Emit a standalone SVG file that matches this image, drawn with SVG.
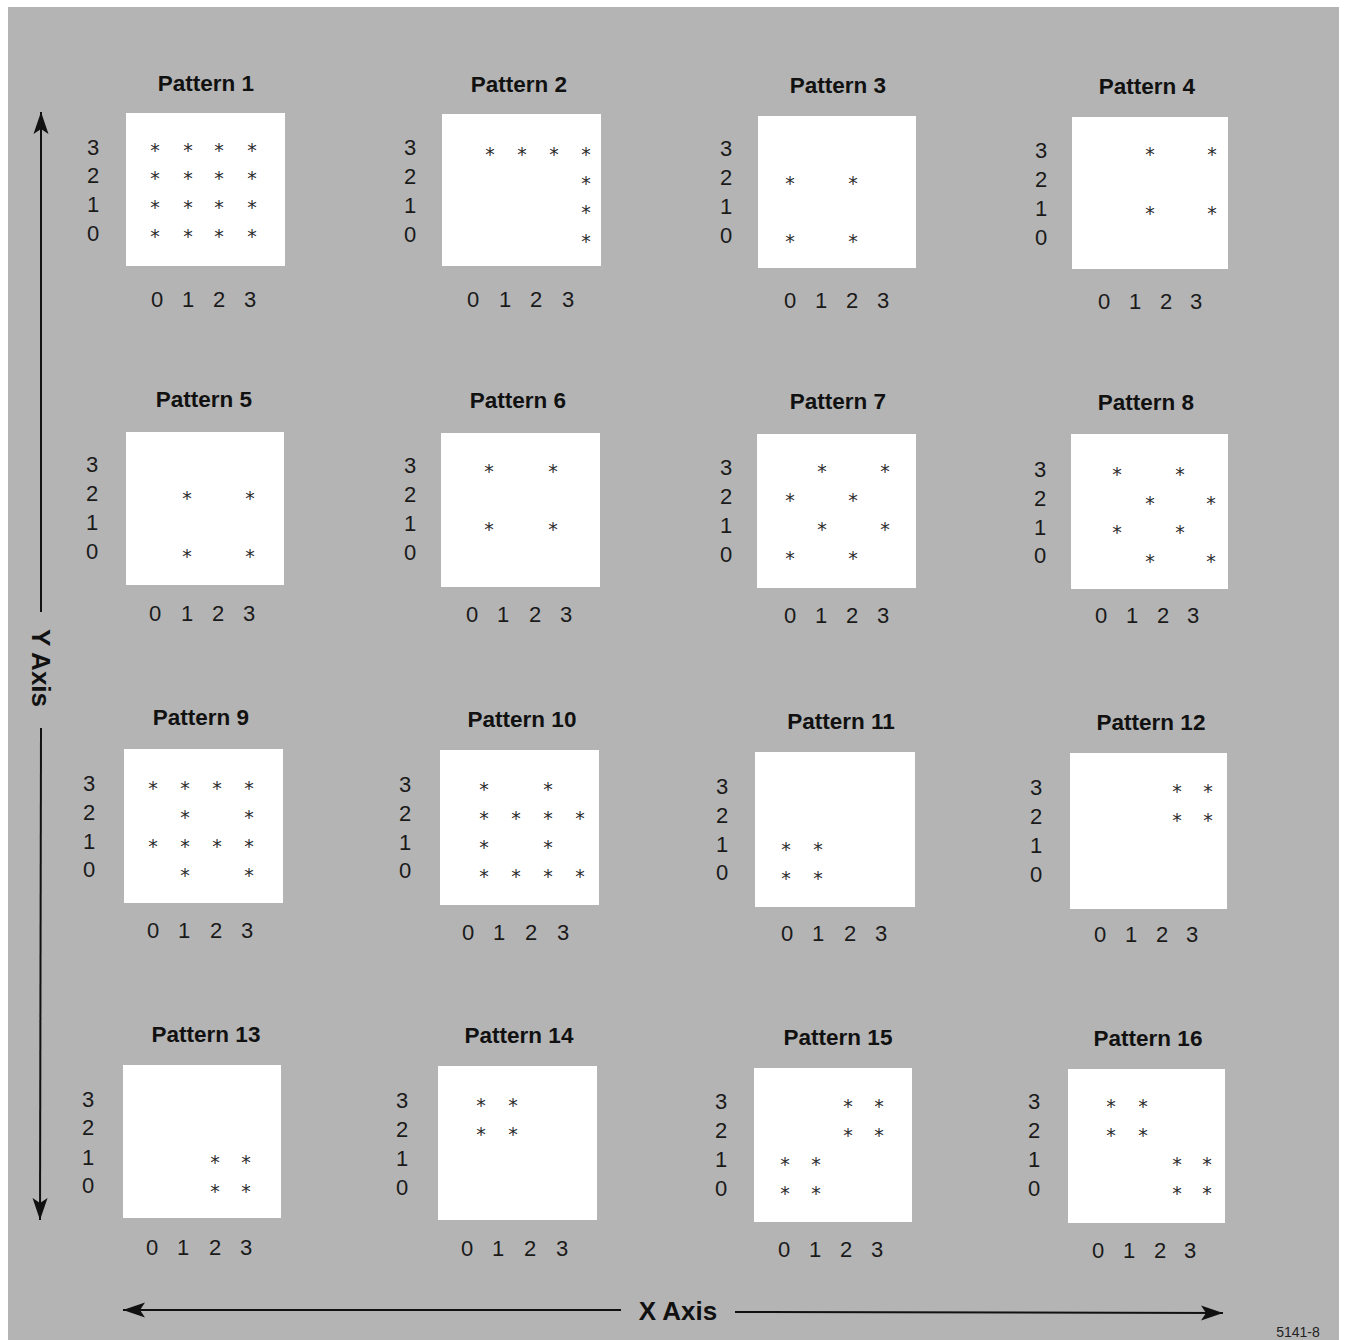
<svg xmlns="http://www.w3.org/2000/svg" width="1348" height="1340" viewBox="0 0 1348 1340">
<style>
.bg{fill:#b4b4b4}
.box{fill:#ffffff}
.t{font-family:"Liberation Sans",Arial,sans-serif;font-weight:bold;font-size:22.5px;fill:#111;text-anchor:middle}
.d{font-family:"Liberation Sans",Arial,sans-serif;font-size:22px;fill:#1a1a1a;text-anchor:middle}
.a{font-family:"DejaVu Sans",sans-serif;font-size:19px;fill:#222;text-anchor:middle;opacity:0.95}
.ax{font-family:"Liberation Sans",Arial,sans-serif;font-weight:bold;font-size:26px;fill:#111;text-anchor:middle}
.ln{stroke:#111;stroke-width:2;fill:none;marker-end:url(#arr)}
.id{font-family:"Liberation Sans",Arial,sans-serif;font-size:14px;fill:#222;text-anchor:middle}
</style>
<defs>
<marker id="arr" markerUnits="userSpaceOnUse" markerWidth="24" markerHeight="16" refX="22" refY="8" orient="auto">
<path d="M0,0.5 L22,8 L0,15.5 L5,8 Z" fill="#111"/>
</marker>
</defs>
<rect width="1348" height="1340" fill="#ffffff"/>
<rect class="bg" x="8" y="7" width="1331" height="1333"/>

<g id="pattern-1">
<text class="t" x="206" y="91">Pattern 1</text>
<rect class="box" x="126" y="113" width="159" height="153"/>
<text class="d" x="93" y="155">3</text><text class="d" x="93" y="183">2</text><text class="d" x="93" y="212">1</text><text class="d" x="93" y="241">0</text>
<text class="d" x="157" y="307">0</text><text class="d" x="188" y="307">1</text><text class="d" x="219" y="307">2</text><text class="d" x="250" y="307">3</text>
<g transform="translate(0,2)">
<text class="a" x="155" y="155">*</text><text class="a" x="188" y="155">*</text><text class="a" x="219" y="155">*</text><text class="a" x="252" y="155">*</text>
<text class="a" x="155" y="183">*</text><text class="a" x="188" y="183">*</text><text class="a" x="219" y="183">*</text><text class="a" x="252" y="183">*</text>
<text class="a" x="155" y="212">*</text><text class="a" x="188" y="212">*</text><text class="a" x="219" y="212">*</text><text class="a" x="252" y="212">*</text>
<text class="a" x="155" y="241">*</text><text class="a" x="188" y="241">*</text><text class="a" x="219" y="241">*</text><text class="a" x="252" y="241">*</text>
</g>
</g>

<g id="pattern-2">
<text class="t" x="519" y="92">Pattern 2</text>
<rect class="box" x="442" y="114" width="159" height="152"/>
<text class="d" x="410" y="155">3</text><text class="d" x="410" y="184">2</text><text class="d" x="410" y="213">1</text><text class="d" x="410" y="242">0</text>
<text class="d" x="473" y="307">0</text><text class="d" x="505" y="307">1</text><text class="d" x="536" y="307">2</text><text class="d" x="568" y="307">3</text>
<g transform="translate(0,2)">
<text class="a" x="490" y="159">*</text><text class="a" x="522" y="159">*</text><text class="a" x="554" y="159">*</text><text class="a" x="586" y="159">*</text>
<text class="a" x="586" y="188">*</text><text class="a" x="586" y="217">*</text><text class="a" x="586" y="246">*</text>
</g>
</g>

<g id="pattern-3">
<text class="t" x="838" y="93">Pattern 3</text>
<rect class="box" x="758" y="116" width="158" height="152"/>
<text class="d" x="726" y="156">3</text><text class="d" x="726" y="185">2</text><text class="d" x="726" y="214">1</text><text class="d" x="726" y="243">0</text>
<text class="d" x="790" y="308">0</text><text class="d" x="821" y="308">1</text><text class="d" x="852" y="308">2</text><text class="d" x="883" y="308">3</text>
<g transform="translate(0,2)">
<text class="a" x="790" y="188">*</text><text class="a" x="853" y="188">*</text>
<text class="a" x="790" y="246">*</text><text class="a" x="853" y="246">*</text>
</g>
</g>

<g id="pattern-4">
<text class="t" x="1147" y="94">Pattern 4</text>
<rect class="box" x="1072" y="117" width="156" height="152"/>
<text class="d" x="1041" y="158">3</text><text class="d" x="1041" y="187">2</text><text class="d" x="1041" y="216">1</text><text class="d" x="1041" y="245">0</text>
<text class="d" x="1104" y="309">0</text><text class="d" x="1135" y="309">1</text><text class="d" x="1166" y="309">2</text><text class="d" x="1196" y="309">3</text>
<g transform="translate(0,2)">
<text class="a" x="1150" y="159">*</text><text class="a" x="1212" y="159">*</text>
<text class="a" x="1150" y="218">*</text><text class="a" x="1212" y="218">*</text>
</g>
</g>

<g id="pattern-5">
<text class="t" x="204" y="407">Pattern 5</text>
<rect class="box" x="126" y="432" width="158" height="153"/>
<text class="d" x="92" y="472">3</text><text class="d" x="92" y="501">2</text><text class="d" x="92" y="530">1</text><text class="d" x="92" y="559">0</text>
<text class="d" x="155" y="621">0</text><text class="d" x="187" y="621">1</text><text class="d" x="218" y="621">2</text><text class="d" x="249" y="621">3</text>
<g transform="translate(0,2)">
<text class="a" x="187" y="503">*</text><text class="a" x="250" y="503">*</text>
<text class="a" x="187" y="561">*</text><text class="a" x="250" y="561">*</text>
</g>
</g>

<g id="pattern-6">
<text class="t" x="518" y="408">Pattern 6</text>
<rect class="box" x="441" y="433" width="159" height="154"/>
<text class="d" x="410" y="473">3</text><text class="d" x="410" y="502">2</text><text class="d" x="410" y="531">1</text><text class="d" x="410" y="560">0</text>
<text class="d" x="472" y="622">0</text><text class="d" x="503" y="622">1</text><text class="d" x="535" y="622">2</text><text class="d" x="566" y="622">3</text>
<g transform="translate(0,2)">
<text class="a" x="489" y="476">*</text><text class="a" x="553" y="476">*</text>
<text class="a" x="489" y="534">*</text><text class="a" x="553" y="534">*</text>
</g>
</g>

<g id="pattern-7">
<text class="t" x="838" y="409">Pattern 7</text>
<rect class="box" x="757" y="434" width="159" height="154"/>
<text class="d" x="726" y="475">3</text><text class="d" x="726" y="504">2</text><text class="d" x="726" y="533">1</text><text class="d" x="726" y="562">0</text>
<text class="d" x="790" y="623">0</text><text class="d" x="821" y="623">1</text><text class="d" x="852" y="623">2</text><text class="d" x="883" y="623">3</text>
<g transform="translate(0,2)">
<text class="a" x="822" y="476">*</text><text class="a" x="885" y="476">*</text>
<text class="a" x="790" y="505">*</text><text class="a" x="853" y="505">*</text>
<text class="a" x="822" y="534">*</text><text class="a" x="885" y="534">*</text>
<text class="a" x="790" y="563">*</text><text class="a" x="853" y="563">*</text>
</g>
</g>

<g id="pattern-8">
<text class="t" x="1146" y="410">Pattern 8</text>
<rect class="box" x="1071" y="434" width="157" height="155"/>
<text class="d" x="1040" y="477">3</text><text class="d" x="1040" y="506">2</text><text class="d" x="1040" y="535">1</text><text class="d" x="1040" y="563">0</text>
<text class="d" x="1101" y="623">0</text><text class="d" x="1132" y="623">1</text><text class="d" x="1163" y="623">2</text><text class="d" x="1193" y="623">3</text>
<g transform="translate(0,2)">
<text class="a" x="1117" y="479">*</text><text class="a" x="1180" y="479">*</text>
<text class="a" x="1150" y="508">*</text><text class="a" x="1211" y="508">*</text>
<text class="a" x="1117" y="537">*</text><text class="a" x="1180" y="537">*</text>
<text class="a" x="1150" y="566">*</text><text class="a" x="1211" y="566">*</text>
</g>
</g>

<g id="pattern-9">
<text class="t" x="201" y="725">Pattern 9</text>
<rect class="box" x="124" y="749" width="159" height="154"/>
<text class="d" x="89" y="791">3</text><text class="d" x="89" y="820">2</text><text class="d" x="89" y="849">1</text><text class="d" x="89" y="877">0</text>
<text class="d" x="153" y="938">0</text><text class="d" x="184" y="938">1</text><text class="d" x="216" y="938">2</text><text class="d" x="247" y="938">3</text>
<g transform="translate(0,2)">
<text class="a" x="153" y="793">*</text><text class="a" x="185" y="793">*</text><text class="a" x="217" y="793">*</text><text class="a" x="249" y="793">*</text>
<text class="a" x="185" y="822">*</text><text class="a" x="249" y="822">*</text>
<text class="a" x="153" y="851">*</text><text class="a" x="185" y="851">*</text><text class="a" x="217" y="851">*</text><text class="a" x="249" y="851">*</text>
<text class="a" x="185" y="880">*</text><text class="a" x="249" y="880">*</text>
</g>
</g>

<g id="pattern-10">
<text class="t" x="522" y="727">Pattern 10</text>
<rect class="box" x="440" y="750" width="159" height="155"/>
<text class="d" x="405" y="792">3</text><text class="d" x="405" y="821">2</text><text class="d" x="405" y="850">1</text><text class="d" x="405" y="878">0</text>
<text class="d" x="468" y="940">0</text><text class="d" x="499" y="940">1</text><text class="d" x="531" y="940">2</text><text class="d" x="563" y="940">3</text>
<g transform="translate(0,2)">
<text class="a" x="484" y="794">*</text><text class="a" x="548" y="794">*</text>
<text class="a" x="484" y="823">*</text><text class="a" x="516" y="823">*</text><text class="a" x="548" y="823">*</text><text class="a" x="580" y="823">*</text>
<text class="a" x="484" y="852">*</text><text class="a" x="548" y="852">*</text>
<text class="a" x="484" y="881">*</text><text class="a" x="516" y="881">*</text><text class="a" x="548" y="881">*</text><text class="a" x="580" y="881">*</text>
</g>
</g>

<g id="pattern-11">
<text class="t" x="841" y="729">Pattern 11</text>
<rect class="box" x="755" y="752" width="160" height="155"/>
<text class="d" x="722" y="794">3</text><text class="d" x="722" y="823">2</text><text class="d" x="722" y="852">1</text><text class="d" x="722" y="880">0</text>
<text class="d" x="787" y="941">0</text><text class="d" x="818" y="941">1</text><text class="d" x="850" y="941">2</text><text class="d" x="881" y="941">3</text>
<g transform="translate(0,2)">
<text class="a" x="786" y="854">*</text><text class="a" x="818" y="854">*</text>
<text class="a" x="786" y="883">*</text><text class="a" x="818" y="883">*</text>
</g>
</g>

<g id="pattern-12">
<text class="t" x="1151" y="730">Pattern 12</text>
<rect class="box" x="1070" y="753" width="157" height="156"/>
<text class="d" x="1036" y="795">3</text><text class="d" x="1036" y="824">2</text><text class="d" x="1036" y="853">1</text><text class="d" x="1036" y="882">0</text>
<text class="d" x="1100" y="942">0</text><text class="d" x="1131" y="942">1</text><text class="d" x="1162" y="942">2</text><text class="d" x="1192" y="942">3</text>
<g transform="translate(0,2)">
<text class="a" x="1177" y="796">*</text><text class="a" x="1208" y="796">*</text>
<text class="a" x="1177" y="825">*</text><text class="a" x="1208" y="825">*</text>
</g>
</g>

<g id="pattern-13">
<text class="t" x="206" y="1042">Pattern 13</text>
<rect class="box" x="123" y="1065" width="158" height="153"/>
<text class="d" x="88" y="1107">3</text><text class="d" x="88" y="1135">2</text><text class="d" x="88" y="1165">1</text><text class="d" x="88" y="1193">0</text>
<text class="d" x="152" y="1255">0</text><text class="d" x="183" y="1255">1</text><text class="d" x="215" y="1255">2</text><text class="d" x="246" y="1255">3</text>
<g transform="translate(0,2)">
<text class="a" x="215" y="1167">*</text><text class="a" x="246" y="1167">*</text>
<text class="a" x="215" y="1196">*</text><text class="a" x="246" y="1196">*</text>
</g>
</g>

<g id="pattern-14">
<text class="t" x="519" y="1043">Pattern 14</text>
<rect class="box" x="438" y="1066" width="159" height="154"/>
<text class="d" x="402" y="1108">3</text><text class="d" x="402" y="1137">2</text><text class="d" x="402" y="1166">1</text><text class="d" x="402" y="1195">0</text>
<text class="d" x="467" y="1256">0</text><text class="d" x="498" y="1256">1</text><text class="d" x="530" y="1256">2</text><text class="d" x="562" y="1256">3</text>
<g transform="translate(0,2)">
<text class="a" x="481" y="1110">*</text><text class="a" x="513" y="1110">*</text>
<text class="a" x="481" y="1139">*</text><text class="a" x="513" y="1139">*</text>
</g>
</g>

<g id="pattern-15">
<text class="t" x="838" y="1045">Pattern 15</text>
<rect class="box" x="754" y="1068" width="158" height="154"/>
<text class="d" x="721" y="1109">3</text><text class="d" x="721" y="1138">2</text><text class="d" x="721" y="1167">1</text><text class="d" x="721" y="1196">0</text>
<text class="d" x="784" y="1257">0</text><text class="d" x="815" y="1257">1</text><text class="d" x="846" y="1257">2</text><text class="d" x="877" y="1257">3</text>
<g transform="translate(0,2)">
<text class="a" x="848" y="1111">*</text><text class="a" x="879" y="1111">*</text>
<text class="a" x="848" y="1140">*</text><text class="a" x="879" y="1140">*</text>
<text class="a" x="785" y="1169">*</text><text class="a" x="816" y="1169">*</text>
<text class="a" x="785" y="1198">*</text><text class="a" x="816" y="1198">*</text>
</g>
</g>

<g id="pattern-16">
<text class="t" x="1148" y="1046">Pattern 16</text>
<rect class="box" x="1068" y="1069" width="157" height="154"/>
<text class="d" x="1034" y="1109">3</text><text class="d" x="1034" y="1138">2</text><text class="d" x="1034" y="1167">1</text><text class="d" x="1034" y="1196">0</text>
<text class="d" x="1098" y="1258">0</text><text class="d" x="1129" y="1258">1</text><text class="d" x="1160" y="1258">2</text><text class="d" x="1190" y="1258">3</text>
<g transform="translate(0,2)">
<text class="a" x="1111" y="1111">*</text><text class="a" x="1143" y="1111">*</text>
<text class="a" x="1111" y="1140">*</text><text class="a" x="1143" y="1140">*</text>
<text class="a" x="1177" y="1169">*</text><text class="a" x="1207" y="1169">*</text>
<text class="a" x="1177" y="1198">*</text><text class="a" x="1207" y="1198">*</text>
</g>
</g>

<g id="connectors">
<line class="ln" x1="41" y1="612" x2="41" y2="112"/>
<line class="ln" x1="41" y1="728" x2="40" y2="1220"/>
<line class="ln" x1="621" y1="1310" x2="123" y2="1310"/>
<line class="ln" x1="735" y1="1312" x2="1223" y2="1313"/>
</g>
<text class="ax" transform="translate(41,668) rotate(90)" y="9">Y Axis</text>
<text class="ax" x="678" y="1320">X Axis</text>
<text class="id" x="1298" y="1337">5141-8</text>
</svg>
